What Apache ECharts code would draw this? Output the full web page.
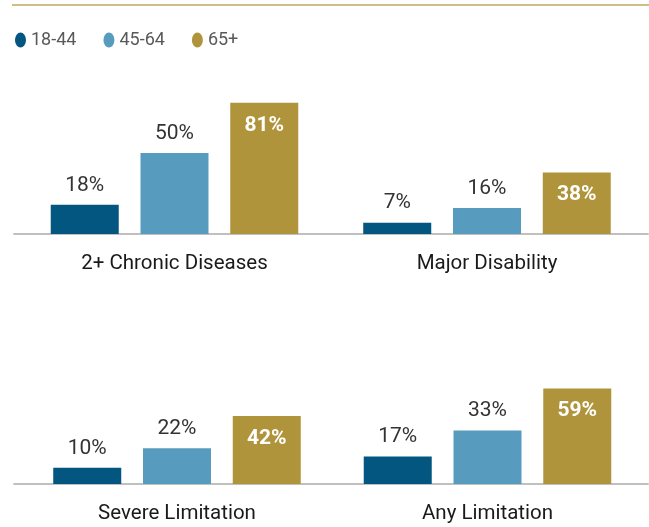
<!DOCTYPE html>
<html lang="en">
<head>
    <meta charset="UTF-8">
    <title>Chronic conditions by age</title>
    <style>
        html, body { margin: 0; padding: 0; background: #fff; }
        #chart_box { width: 649px; height: 527px; }
    </style>
</head>
<body>
<div id="chart_box"></div>
<script src="https://cdn.jsdelivr.net/npm/echarts@6/dist/echarts.min.js"></script>
<script>
    // data
    var categories = ['2+ Chronic Diseases', 'Major Disability', 'Severe Limitation', 'Any Limitation'];
    var ageGroups = ['18-44', '45-64', '65+'];
    var age18_44 = [18, 7, 10, 17];
    var age45_64 = [50, 16, 22, 33];
    var age65plus = [81, 38, 42, 59];

    var colors = ['#02567f', '#579bbf', '#b0943b'];
    var values = [age18_44, age45_64, age65plus];
    var font = 'Roboto';

    // panel positions (left, width, top) - one grid per condition
    var panels = [
        {left: 14, width: 321, top: 72},
        {left: 326, width: 322, top: 72},
        {left: 14, width: 326, top: 322},
        {left: 327, width: 321, top: 322}
    ];

    var grids = [], xAxes = [], yAxes = [], series = [];
    for (var i = 0; i < categories.length; i++) {
        grids.push({left: panels[i].left, width: panels[i].width, top: panels[i].top, height: 162});
        xAxes.push({
            type: 'category',
            gridIndex: i,
            data: [categories[i]],
            axisLine: {lineStyle: {color: '#c0c0c0', width: 2}},
            axisTick: {show: false},
            axisLabel: {color: '#1a1a1a', fontSize: 20.5, fontFamily: font, margin: 19}
        });
        yAxes.push({type: 'value', gridIndex: i, min: 0, max: 100, show: false, splitLine: {show: false}});
        for (var k = 0; k < ageGroups.length; k++) {
            var inside = (k == 2);
            series.push({
                name: ageGroups[k],
                type: 'bar',
                xAxisIndex: i,
                yAxisIndex: i,
                barWidth: 68,
                barGap: '32%',
                itemStyle: {color: colors[k]},
                label: {
                    show: true,
                    position: inside ? 'insideTop' : 'top',
                    distance: inside ? 12 : 9,
                    color: inside ? '#fff' : '#333',
                    fontWeight: inside ? 'bold' : 'normal',
                    fontSize: 21,
                    fontFamily: font,
                    formatter: '{c}%'
                },
                data: [values[k][i]]
            });
        }
    }

    var chart = echarts.init(document.getElementById('chart_box'));
    chart.setOption({
        animation: false,
        color: colors,
        legend: {
            left: 15,
            top: 31,
            padding: 0,
            itemWidth: 11,
            itemHeight: 15,
            itemGap: 27,
            symbolKeepAspect: false,
            icon: 'path://M0,1A1,1,0,1,1,2,1A1,1,0,1,1,0,1Z',
            textStyle: {color: '#595959', fontSize: 18, fontFamily: font},
            data: ageGroups
        },
        graphic: [{
            type: 'line',
            shape: {x1: 12, y1: 5, x2: 649, y2: 5},
            style: {stroke: '#c2a95e', lineWidth: 1.5}
        }],
        grid: grids,
        xAxis: xAxes,
        yAxis: yAxes,
        series: series
    });
</script>
</body>
</html>
